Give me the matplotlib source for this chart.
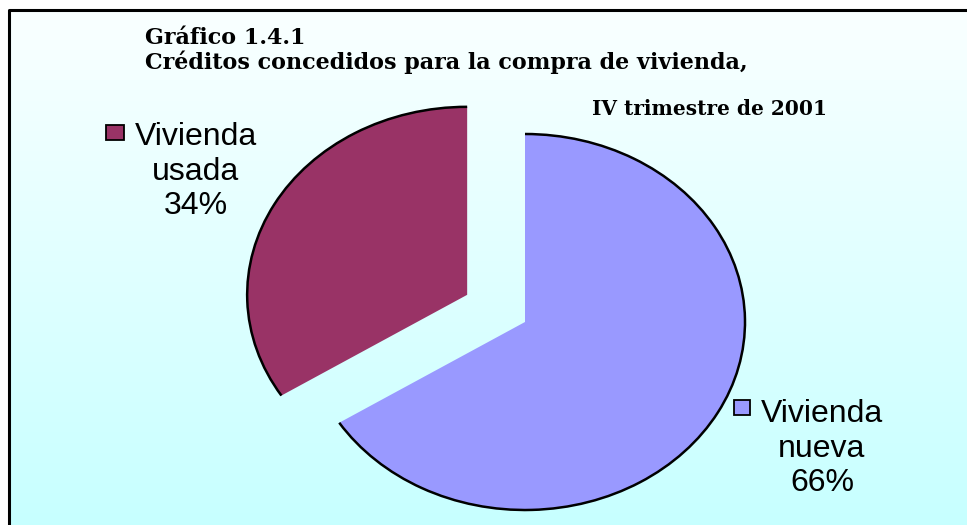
import matplotlib.pyplot as plt
from matplotlib.patches import Arc, Rectangle
import numpy as np

# chart data
labels = ["Vivienda\nnueva\n66%", "Vivienda\nusada\n34%"]
shares = [66, 34]
colors = ["#9999FF", "#993366"]
explode = [0, 0.3]
title_lines = ["Gráfico 1.4.1", "Créditos concedidos para la compra de vivienda,"]
subtitle = "IV trimestre de 2001"

W, H = 967, 525
fig = plt.figure(figsize=(W / 100, H / 100), dpi=100)

# background axes in pixel units
bg = fig.add_axes([0, 0, 1, 1])
bg.set_xlim(0, W)
bg.set_ylim(H, 0)
bg.axis("off")
grad = np.linspace(0, 1, 256).reshape(-1, 1)
top = np.array([0.98, 1.0, 1.0])
bot = np.array([0.78, 1.0, 1.0])
img = top + (bot - top) * grad[:, :, None]
bg.imshow(img, extent=[9, W, H, 10], aspect="auto", zorder=0)
bg.plot([9, 9, W], [H, 10, 10], color="black", lw=2.2, solid_capstyle="butt", zorder=1)

tfont = dict(family="DejaVu Serif", fontweight="bold", color="black")
bg.text(145, 44, title_lines[0], fontsize=16, **tfont)
bg.text(145, 69, title_lines[1], fontsize=16, **tfont)
bg.text(827, 115, subtitle, ha="right", fontsize=14.5, **tfont)

# pie axes: ellipse centre (525, 322) px, radii 220 x 188 px
cx, cy, rx, ry = 525, 322, 220, 188
x0, x1, y0, y1 = -1.4, 1.1, -1.05, 1.2
ax = fig.add_axes([(cx + x0 * rx) / W, (H - (cy - y0 * ry)) / H,
                   (x1 - x0) * rx / W, (y1 - y0) * ry / H])
wedges, _ = ax.pie(shares, colors=colors, explode=explode, startangle=90,
                   counterclock=False, wedgeprops=dict(linewidth=0))
ax.set_aspect("auto")
ax.set_xlim(x0, x1)
ax.set_ylim(y0, y1)
ax.axis("off")
for w in wedges:
    ax.add_patch(Arc(w.center, 2 * w.r, 2 * w.r, theta1=w.theta1, theta2=w.theta2,
                     color="black", lw=1.8))

# data labels with legend keys
lfont = dict(family="Liberation Sans", fontsize=23, ha="center", va="top",
             multialignment="center", linespacing=1.2, color="black")
bg.text(822, 399, labels[0], **lfont)
bg.text(196, 122, labels[1], **lfont)
bg.add_patch(Rectangle((734, 400), 16, 15, facecolor=colors[0], edgecolor="black", lw=1.3, zorder=3))
bg.add_patch(Rectangle((106, 125), 18, 15, facecolor=colors[1], edgecolor="black", lw=1.3, zorder=3))

fig.savefig("out.png", dpi=100)
